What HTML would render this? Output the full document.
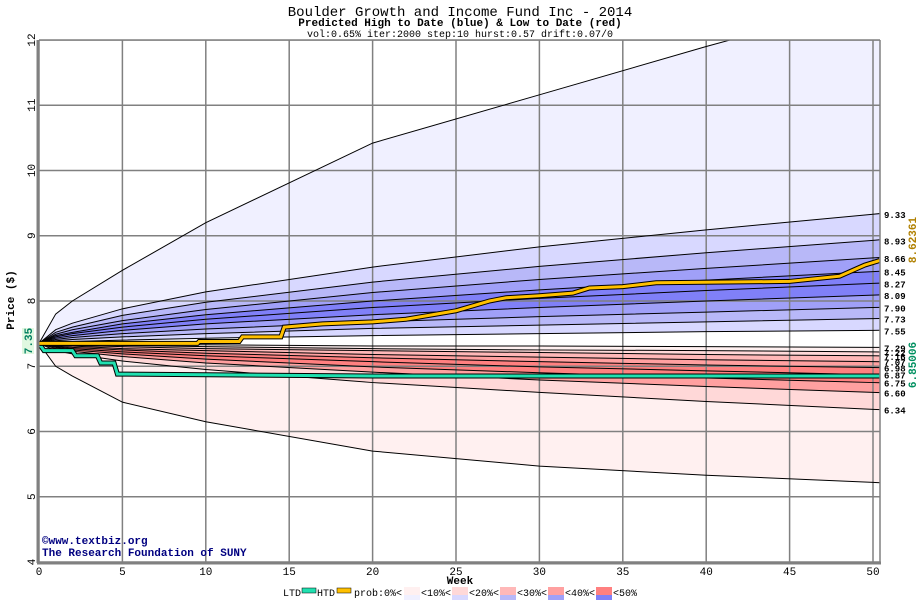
<!DOCTYPE html>
<html><head><meta charset="utf-8"><style>
body{margin:0;background:#fff;width:920px;height:600px;overflow:hidden}
svg text{font-family:"Liberation Mono","DejaVu Sans Mono",monospace}
</style></head><body>
<svg id="chart" width="920" height="600" xmlns="http://www.w3.org/2000/svg">
<text x="460" y="16" text-anchor="middle" font-size="14" fill="#000">Boulder Growth and Income Fund Inc - 2014</text>
<text x="460" y="26" text-anchor="middle" font-size="11" font-weight="bold" fill="#000">Predicted High to Date (blue) &amp;  Low to Date (red)</text>
<text x="460" y="37" text-anchor="middle" font-size="10" fill="#000">vol:0.65% iter:2000 step:10 hurst:0.57 drift:0.07/0</text>
<g id="plot"></g>
<text x="460" y="584" text-anchor="middle" font-size="11" font-weight="bold">Week</text>
<text transform="translate(14,300) rotate(-90)" text-anchor="middle" font-size="11" font-weight="bold">Price ($)</text>
<rect x="22" y="328" width="12" height="26" fill="#e0f8e0"/>
<text transform="translate(32,341) rotate(-90)" text-anchor="middle" font-size="11" font-weight="bold" fill="#008060">7.35</text>
<text transform="translate(916,240) rotate(-90)" text-anchor="middle" font-size="11" font-weight="bold" fill="#b08000">8.62361</text>
<text transform="translate(916,365) rotate(-90)" text-anchor="middle" font-size="11" font-weight="bold" fill="#009060">6.85006</text>
<text x="42" y="544" font-size="11" font-weight="bold" fill="#000080">©www.textbiz.org</text>
<text x="42" y="556" font-size="11" font-weight="bold" fill="#000080">The Research Foundation of SUNY</text>
<g id="legend" font-size="10"></g>
</svg>
<script>
const weeks=[0,1,2,5,10,20,30,40,50];
const upperLines=[
[7.35,7.8,8.0,8.47,9.2,10.42,11.16,11.9,12.6],
[7.35,7.56,7.66,7.88,8.14,8.52,8.83,9.09,9.33],
[7.35,7.52,7.60,7.78,7.98,8.29,8.53,8.74,8.93],
[7.35,7.49,7.56,7.70,7.87,8.13,8.33,8.50,8.66],
[7.35,7.47,7.52,7.65,7.79,8.00,8.17,8.32,8.45],
[7.35,7.45,7.50,7.60,7.72,7.90,8.04,8.16,8.27],
[7.35,7.43,7.47,7.55,7.65,7.79,7.90,8.00,8.09],
[7.35,7.41,7.44,7.50,7.57,7.68,7.76,7.83,7.90],
[7.35,7.39,7.41,7.45,7.50,7.58,7.63,7.68,7.73],
[7.35,7.37,7.38,7.40,7.43,7.47,7.50,7.53,7.55]];
const lowerLines=[
[7.35,7.34,7.34,7.33,7.33,7.31,7.31,7.30,7.29],
[7.35,7.34,7.33,7.32,7.30,7.27,7.25,7.24,7.22],
[7.35,7.33,7.32,7.30,7.27,7.24,7.21,7.18,7.16],
[7.35,7.32,7.31,7.27,7.24,7.18,7.14,7.10,7.07],
[7.35,7.31,7.29,7.25,7.20,7.13,7.07,7.02,6.98],
[7.35,7.30,7.27,7.22,7.16,7.07,6.99,6.93,6.87],
[7.35,7.29,7.25,7.19,7.11,6.99,6.90,6.82,6.75],
[7.35,7.27,7.23,7.15,7.05,6.91,6.79,6.69,6.60],
[7.35,7.24,7.19,7.08,6.95,6.75,6.60,6.46,6.34],
[7.35,7.0,6.85,6.45,6.15,5.7,5.47,5.33,5.22]];
const upperFills=["#f0f0ff","#d8d8ff","#b8b8f8","#a0a0f8","#8080f8","#8080f8","#a0a0f8","#b8b8f8","#d8d8ff"];
const lowerFills=["#fff0f0","#ffd8d8","#ffb8b8","#ffa0a0","#ff8080","#ff8080","#ffa0a0","#ffd8d8","#fff0f0"];
const endLabels=["9.33","8.93","8.66","8.45","8.27","8.09","7.90","7.73","7.55","7.29","7.22","7.16","7.07","6.98","6.87","6.75","6.60","6.34"];
const endValues=[9.33,8.93,8.66,8.45,8.27,8.09,7.90,7.73,7.55,7.29,7.22,7.16,7.07,6.98,6.87,6.75,6.60,6.34];
const htdWeeks=[0,9.5,9.6,12,12.2,14.5,14.7,17,20,22,25,27,28,30,32,33,35,37,45,48,49.5,50.4];
const htdValues=[7.35,7.35,7.38,7.38,7.45,7.45,7.6,7.65,7.68,7.72,7.85,8.0,8.05,8.08,8.12,8.2,8.22,8.28,8.3,8.38,8.55,8.62];
const ltdWeeks=[0,0.3,2,2.2,3.5,3.7,4.5,4.7,20,50.4];
const ltdValues=[7.35,7.24,7.24,7.16,7.16,7.05,7.05,6.88,6.85,6.85];
const xTicks=[0,5,10,15,20,25,30,35,40,45,50];
const yTicks=[4,5,6,7,8,9,10,11,12];

const NS="http://www.w3.org/2000/svg";
const X0=39,X1=880,Y0=40,Y1=562;
const xs=w=>39+w*(873-39)/50;
const ys=v=>562-(v-4)*(562-40)/8;
function mk(tag,attrs,parent){const e=document.createElementNS(NS,tag);for(const k in attrs)e.setAttribute(k,attrs[k]);parent.appendChild(e);return e;}
const plot=document.getElementById('plot');
const defs=mk('defs',{},plot);
const cp=mk('clipPath',{id:'clip'},defs);
mk('rect',{x:X0,y:Y0,width:X1-X0,height:Y1-Y0},cp);
const g=mk('g',{'clip-path':'url(#clip)'},plot);
function extend(arr){return arr.concat([arr[arr.length-1]+(arr[arr.length-1]-arr[arr.length-2])*0.05]);}
const wx=weeks.concat([50.5]);
function pts(line){const l=extend(line);return wx.map((w,i)=>xs(w)+','+ys(l[i]));}
function band(a,b,fill,name){
  const p=pts(a).concat(pts(b).reverse());
  const e=mk('polygon',{points:p.join(' '),fill:fill},g);
  
  
}
for(let i=0;i<upperLines.length-1;i++)band(upperLines[i],upperLines[i+1],upperFills[i],'upper-band-'+i);
for(let i=0;i<lowerLines.length-1;i++)band(lowerLines[i],lowerLines[i+1],lowerFills[i],'lower-band-'+i);
xTicks.forEach(t=>{const e=mk('line',{x1:xs(t),x2:xs(t),y1:Y0,y2:Y1,stroke:'#808080','stroke-width':1.5},g);
});
yTicks.forEach(t=>{const e=mk('line',{x1:X0,x2:X1,y1:ys(t),y2:ys(t),stroke:'#808080','stroke-width':1.5},g);
});
upperLines.concat(lowerLines).forEach(l=>{const e=mk('polyline',{points:pts(l).join(' '),fill:'none',stroke:'#000','stroke-width':1},g);
});
function path(ws,vs,color,name){
  const p=ws.map((w,i)=>xs(w)+','+ys(vs[i])).join(' ');
  mk('polyline',{points:p,fill:'none',stroke:'#000','stroke-width':5},g);
  const e=mk('polyline',{points:p,fill:'none',stroke:color,'stroke-width':3},g);
  
}
path(ltdWeeks,ltdValues,'#20e0b0','ltd-line');
path(htdWeeks,htdValues,'#ffc000','htd-line');
mk('line',{x1:X0-1,x2:X0-1,y1:Y0,y2:Y1+1,stroke:'#808080','stroke-width':3},plot);
mk('line',{x1:X0-2,x2:X1+1,y1:Y1+1,y2:Y1+1,stroke:'#808080','stroke-width':3},plot);
mk('line',{x1:X0,x2:X1,y1:Y0,y2:Y0,stroke:'#808080','stroke-width':1.5},plot);
mk('line',{x1:X1,x2:X1,y1:Y0,y2:Y1,stroke:'#808080','stroke-width':1.5},plot);
xTicks.forEach(t=>{const e=mk('text',{x:xs(t),y:575,'text-anchor':'middle','font-size':11},plot);e.textContent=t;
});
yTicks.forEach(t=>{const e=mk('text',{transform:`translate(35,${ys(t)}) rotate(-90)`,'text-anchor':'middle','font-size':11},plot);e.textContent=t;
});
endLabels.forEach((s,i)=>{const e=mk('text',{x:884,y:ys(endValues[i])+4,'font-size':9,'font-weight':'bold'},plot);e.textContent=s;
});
const lg=document.getElementById('legend');
function t(x,s){const e=mk('text',{x:x,y:596},lg);e.textContent=s;}
t(283,'LTD');mk('rect',{x:302,y:588,width:14,height:5,fill:'#20e0b0',stroke:'#000','stroke-width':0.5},lg);
t(317,'HTD');mk('rect',{x:337,y:588,width:14,height:5,fill:'#ffc000',stroke:'#000','stroke-width':0.5},lg);
t(354,'prob:0%<');
const lc=[["#fff0f0","#f0f0ff"],["#ffd8d8","#d8d8ff"],["#ffb8b8","#b8b8f8"],["#ffa0a0","#a0a0f8"],["#ff8080","#8080f8"]];
const ll=['<10%<','<20%<','<30%<','<40%<','<50%'];
lc.forEach((c,i)=>{const x=404+i*48;
mk('rect',{x:x,y:587,width:16,height:8,fill:c[0]},lg);mk('rect',{x:x,y:595,width:16,height:6,fill:c[1]},lg);
t(x+17,ll[i]);});
</script>
</body></html>
